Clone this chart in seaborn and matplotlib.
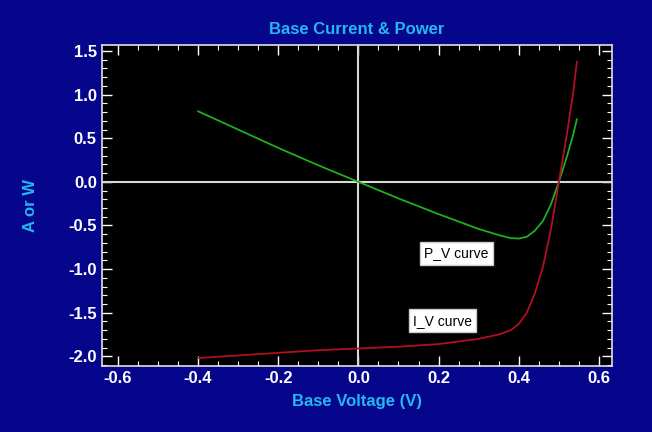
import numpy as np
import pandas as pd
import matplotlib
matplotlib.use("Agg")
import matplotlib.pyplot as plt
import seaborn as sns
from matplotlib.ticker import MultipleLocator

# Data
v_iv = [-0.40, -0.30, -0.20, -0.10, 0.00, 0.10, 0.20, 0.30, 0.35, 0.38, 0.40, 0.42, 0.44, 0.46, 0.48, 0.50, 0.52, 0.535, 0.545]
i_iv = [-2.02, -1.99, -1.96, -1.93, -1.91, -1.89, -1.86, -1.80, -1.75, -1.70, -1.63, -1.50, -1.28, -0.98, -0.55, 0.00, 0.55, 1.00, 1.38]
v_pv = [-0.40, -0.30, -0.20, -0.10, 0.00, 0.10, 0.20, 0.30, 0.35, 0.38, 0.40, 0.42, 0.44, 0.46, 0.48, 0.50, 0.52, 0.535, 0.545]
p_pv = [0.81, 0.60, 0.39, 0.19, 0.00, -0.19, -0.37, -0.54, -0.61, -0.645, -0.65, -0.63, -0.56, -0.45, -0.26, 0.00, 0.29, 0.53, 0.72]

title = "Base Current & Power"
xlabel = "Base Voltage (V)"
ylabel = "A or W"
ann_pv = ("P_V curve", 0.245, -0.82)
ann_iv = ("I_V curve", 0.21, -1.59)

df_iv = pd.DataFrame({"V": v_iv, "Y": i_iv})
df_pv = pd.DataFrame({"V": v_pv, "Y": p_pv})

sns.set_theme(style="dark")
plt.rcParams['font.family'] = ['Liberation Sans', 'DejaVu Sans']

bg = "#06068c"
cyan = "#22b8f0"
fig = plt.figure(figsize=(6.52, 4.32), dpi=100, facecolor=bg)
ax = fig.add_axes([0.156, 0.153, 0.783, 0.743])
ax.set_facecolor("black")

ax.axhline(0, color="#d8d8d8", lw=1.5, zorder=1)
ax.axvline(0, color="#d8d8d8", lw=1.5, zorder=1)

sns.lineplot(data=df_pv, x="V", y="Y", ax=ax, color="#1fae1f", lw=1.3, zorder=3)
sns.lineplot(data=df_iv, x="V", y="Y", ax=ax, color="#b01020", lw=1.3, zorder=3)

ax.set_xlim(-0.64, 0.633)
ax.set_ylim(-2.11, 1.57)
ax.xaxis.set_major_locator(MultipleLocator(0.2))
ax.xaxis.set_minor_locator(MultipleLocator(0.05))
ax.yaxis.set_major_locator(MultipleLocator(0.5))
ax.yaxis.set_minor_locator(MultipleLocator(0.1))
ax.xaxis.set_major_formatter(matplotlib.ticker.FormatStrFormatter('%.1f'))
ax.yaxis.set_major_formatter(matplotlib.ticker.FormatStrFormatter('%.1f'))
ax.tick_params(which="both", direction="in", top=True, right=True, bottom=True, left=True,
               colors="white", labelcolor="white")
ax.tick_params(which="major", length=7, width=1, labelsize=12)
ax.tick_params(which="minor", length=3.5, width=0.8)
for lab in ax.get_xticklabels() + ax.get_yticklabels():
    lab.set_fontweight("bold")
for s in ax.spines.values():
    s.set_visible(True)
    s.set_color("#e0e0e0")
    s.set_linewidth(1.2)
ax.grid(False)

ax.set_title(title, color=cyan, fontsize=12, fontweight="bold", pad=8)
ax.set_xlabel(xlabel, color=cyan, fontsize=12, fontweight="bold", labelpad=6)
ax.set_ylabel(ylabel, color=cyan, fontsize=12, fontweight="bold", labelpad=22)

for txt, x, y in (ann_pv, ann_iv):
    ax.text(x, y, txt, color="black", fontsize=10, ha="center", va="center", zorder=5,
            bbox=dict(boxstyle="square,pad=0.3", facecolor="white", edgecolor="#cccccc"))

fig.savefig("out.png", dpi=100, facecolor=bg)
